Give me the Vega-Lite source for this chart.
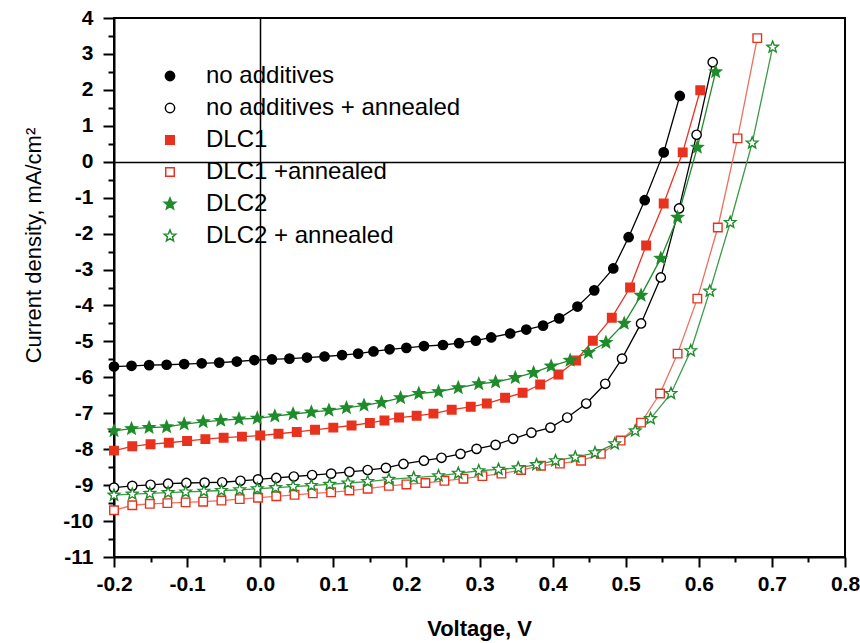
{
  "$schema": "https://vega.github.io/schema/vega-lite/v6.json",
  "width": 731,
  "height": 539,
  "autosize": {"type": "none"},
  "padding": {"left": 114, "top": 18, "right": 15, "bottom": 86},
  "background": "white",
  "config": {"view": {"stroke": "black", "strokeWidth": 2}, "font": "Liberation Sans"},
  "data": {"values": [
    {"s":"no additives","v":-0.2,"j":-5.7},{"s":"no additives","v":-0.176,"j":-5.68},{"s":"no additives","v":-0.152,"j":-5.66},{"s":"no additives","v":-0.128,"j":-5.65},{"s":"no additives","v":-0.104,"j":-5.63},{"s":"no additives","v":-0.08,"j":-5.61},{"s":"no additives","v":-0.056,"j":-5.59},{"s":"no additives","v":-0.032,"j":-5.56},{"s":"no additives","v":-0.008,"j":-5.52},{"s":"no additives","v":0.016,"j":-5.5},{"s":"no additives","v":0.04,"j":-5.48},{"s":"no additives","v":0.064,"j":-5.45},{"s":"no additives","v":0.088,"j":-5.42},{"s":"no additives","v":0.112,"j":-5.38},{"s":"no additives","v":0.134,"j":-5.34},{"s":"no additives","v":0.155,"j":-5.28},{"s":"no additives","v":0.177,"j":-5.22},{"s":"no additives","v":0.2,"j":-5.18},{"s":"no additives","v":0.224,"j":-5.13},{"s":"no additives","v":0.25,"j":-5.1},{"s":"no additives","v":0.272,"j":-5.05},{"s":"no additives","v":0.295,"j":-4.98},{"s":"no additives","v":0.316,"j":-4.89},{"s":"no additives","v":0.342,"j":-4.78},{"s":"no additives","v":0.364,"j":-4.67},{"s":"no additives","v":0.387,"j":-4.56},{"s":"no additives","v":0.409,"j":-4.36},{"s":"no additives","v":0.434,"j":-4.03},{"s":"no additives","v":0.457,"j":-3.58},{"s":"no additives","v":0.483,"j":-2.97},{"s":"no additives","v":0.504,"j":-2.1},{"s":"no additives","v":0.526,"j":-1.07},{"s":"no additives","v":0.552,"j":0.26},{"s":"no additives","v":0.574,"j":1.83},
    {"s":"no additives + annealed","v":-0.2,"j":-9.07},{"s":"no additives + annealed","v":-0.175,"j":-9.02},{"s":"no additives + annealed","v":-0.15,"j":-8.99},{"s":"no additives + annealed","v":-0.126,"j":-8.96},{"s":"no additives + annealed","v":-0.101,"j":-8.94},{"s":"no additives + annealed","v":-0.076,"j":-8.93},{"s":"no additives + annealed","v":-0.052,"j":-8.92},{"s":"no additives + annealed","v":-0.027,"j":-8.88},{"s":"no additives + annealed","v":-0.003,"j":-8.84},{"s":"no additives + annealed","v":0.022,"j":-8.8},{"s":"no additives + annealed","v":0.046,"j":-8.76},{"s":"no additives + annealed","v":0.071,"j":-8.72},{"s":"no additives + annealed","v":0.097,"j":-8.68},{"s":"no additives + annealed","v":0.122,"j":-8.63},{"s":"no additives + annealed","v":0.147,"j":-8.58},{"s":"no additives + annealed","v":0.172,"j":-8.52},{"s":"no additives + annealed","v":0.196,"j":-8.41},{"s":"no additives + annealed","v":0.224,"j":-8.32},{"s":"no additives + annealed","v":0.248,"j":-8.24},{"s":"no additives + annealed","v":0.274,"j":-8.13},{"s":"no additives + annealed","v":0.296,"j":-7.99},{"s":"no additives + annealed","v":0.322,"j":-7.88},{"s":"no additives + annealed","v":0.346,"j":-7.71},{"s":"no additives + annealed","v":0.371,"j":-7.54},{"s":"no additives + annealed","v":0.397,"j":-7.4},{"s":"no additives + annealed","v":0.42,"j":-7.12},{"s":"no additives + annealed","v":0.446,"j":-6.73},{"s":"no additives + annealed","v":0.472,"j":-6.18},{"s":"no additives + annealed","v":0.495,"j":-5.48},{"s":"no additives + annealed","v":0.521,"j":-4.5},{"s":"no additives + annealed","v":0.548,"j":-3.22},{"s":"no additives + annealed","v":0.573,"j":-1.3},{"s":"no additives + annealed","v":0.597,"j":0.75},{"s":"no additives + annealed","v":0.619,"j":2.77},
    {"s":"DLC1","v":-0.2,"j":-8.04},{"s":"DLC1","v":-0.175,"j":-7.92},{"s":"DLC1","v":-0.15,"j":-7.86},{"s":"DLC1","v":-0.125,"j":-7.82},{"s":"DLC1","v":-0.1,"j":-7.77},{"s":"DLC1","v":-0.075,"j":-7.72},{"s":"DLC1","v":-0.05,"j":-7.68},{"s":"DLC1","v":-0.025,"j":-7.65},{"s":"DLC1","v":0.0,"j":-7.62},{"s":"DLC1","v":0.025,"j":-7.57},{"s":"DLC1","v":0.05,"j":-7.52},{"s":"DLC1","v":0.075,"j":-7.46},{"s":"DLC1","v":0.1,"j":-7.4},{"s":"DLC1","v":0.125,"j":-7.34},{"s":"DLC1","v":0.15,"j":-7.27},{"s":"DLC1","v":0.17,"j":-7.2},{"s":"DLC1","v":0.19,"j":-7.12},{"s":"DLC1","v":0.214,"j":-7.07},{"s":"DLC1","v":0.237,"j":-7.01},{"s":"DLC1","v":0.262,"j":-6.9},{"s":"DLC1","v":0.288,"j":-6.82},{"s":"DLC1","v":0.31,"j":-6.73},{"s":"DLC1","v":0.335,"j":-6.57},{"s":"DLC1","v":0.359,"j":-6.43},{"s":"DLC1","v":0.383,"j":-6.2},{"s":"DLC1","v":0.408,"j":-5.92},{"s":"DLC1","v":0.432,"j":-5.53},{"s":"DLC1","v":0.455,"j":-4.98},{"s":"DLC1","v":0.481,"j":-4.34},{"s":"DLC1","v":0.506,"j":-3.5},{"s":"DLC1","v":0.528,"j":-2.33},{"s":"DLC1","v":0.552,"j":-1.16},{"s":"DLC1","v":0.578,"j":0.26},{"s":"DLC1","v":0.602,"j":1.99},
    {"s":"DLC1 +annealed","v":-0.2,"j":-9.7},{"s":"DLC1 +annealed","v":-0.175,"j":-9.56},{"s":"DLC1 +annealed","v":-0.151,"j":-9.52},{"s":"DLC1 +annealed","v":-0.127,"j":-9.5},{"s":"DLC1 +annealed","v":-0.102,"j":-9.48},{"s":"DLC1 +annealed","v":-0.078,"j":-9.46},{"s":"DLC1 +annealed","v":-0.053,"j":-9.43},{"s":"DLC1 +annealed","v":-0.028,"j":-9.39},{"s":"DLC1 +annealed","v":-0.003,"j":-9.35},{"s":"DLC1 +annealed","v":0.022,"j":-9.31},{"s":"DLC1 +annealed","v":0.047,"j":-9.27},{"s":"DLC1 +annealed","v":0.072,"j":-9.23},{"s":"DLC1 +annealed","v":0.097,"j":-9.2},{"s":"DLC1 +annealed","v":0.122,"j":-9.15},{"s":"DLC1 +annealed","v":0.147,"j":-9.1},{"s":"DLC1 +annealed","v":0.176,"j":-9.02},{"s":"DLC1 +annealed","v":0.2,"j":-8.98},{"s":"DLC1 +annealed","v":0.226,"j":-8.94},{"s":"DLC1 +annealed","v":0.252,"j":-8.88},{"s":"DLC1 +annealed","v":0.278,"j":-8.82},{"s":"DLC1 +annealed","v":0.304,"j":-8.75},{"s":"DLC1 +annealed","v":0.33,"j":-8.68},{"s":"DLC1 +annealed","v":0.357,"j":-8.58},{"s":"DLC1 +annealed","v":0.384,"j":-8.46},{"s":"DLC1 +annealed","v":0.41,"j":-8.4},{"s":"DLC1 +annealed","v":0.439,"j":-8.32},{"s":"DLC1 +annealed","v":0.466,"j":-8.13},{"s":"DLC1 +annealed","v":0.493,"j":-7.76},{"s":"DLC1 +annealed","v":0.521,"j":-7.26},{"s":"DLC1 +annealed","v":0.547,"j":-6.45},{"s":"DLC1 +annealed","v":0.571,"j":-5.34},{"s":"DLC1 +annealed","v":0.598,"j":-3.81},{"s":"DLC1 +annealed","v":0.626,"j":-1.83},{"s":"DLC1 +annealed","v":0.653,"j":0.65},{"s":"DLC1 +annealed","v":0.68,"j":3.44},
    {"s":"DLC2","v":-0.2,"j":-7.49},{"s":"DLC2","v":-0.176,"j":-7.43},{"s":"DLC2","v":-0.152,"j":-7.4},{"s":"DLC2","v":-0.128,"j":-7.38},{"s":"DLC2","v":-0.104,"j":-7.3},{"s":"DLC2","v":-0.078,"j":-7.24},{"s":"DLC2","v":-0.054,"j":-7.2},{"s":"DLC2","v":-0.029,"j":-7.16},{"s":"DLC2","v":-0.004,"j":-7.14},{"s":"DLC2","v":0.02,"j":-7.08},{"s":"DLC2","v":0.045,"j":-7.02},{"s":"DLC2","v":0.07,"j":-6.97},{"s":"DLC2","v":0.094,"j":-6.92},{"s":"DLC2","v":0.118,"j":-6.85},{"s":"DLC2","v":0.142,"j":-6.78},{"s":"DLC2","v":0.166,"j":-6.7},{"s":"DLC2","v":0.192,"j":-6.57},{"s":"DLC2","v":0.217,"j":-6.45},{"s":"DLC2","v":0.244,"j":-6.4},{"s":"DLC2","v":0.271,"j":-6.29},{"s":"DLC2","v":0.299,"j":-6.18},{"s":"DLC2","v":0.322,"j":-6.13},{"s":"DLC2","v":0.349,"j":-6.01},{"s":"DLC2","v":0.374,"j":-5.87},{"s":"DLC2","v":0.398,"j":-5.69},{"s":"DLC2","v":0.424,"j":-5.53},{"s":"DLC2","v":0.449,"j":-5.31},{"s":"DLC2","v":0.473,"j":-5.03},{"s":"DLC2","v":0.498,"j":-4.5},{"s":"DLC2","v":0.521,"j":-3.72},{"s":"DLC2","v":0.548,"j":-2.69},{"s":"DLC2","v":0.571,"j":-1.55},{"s":"DLC2","v":0.598,"j":0.4},{"s":"DLC2","v":0.623,"j":2.5},
    {"s":"DLC2 + annealed","v":-0.2,"j":-9.28},{"s":"DLC2 + annealed","v":-0.175,"j":-9.25},{"s":"DLC2 + annealed","v":-0.151,"j":-9.23},{"s":"DLC2 + annealed","v":-0.126,"j":-9.21},{"s":"DLC2 + annealed","v":-0.102,"j":-9.19},{"s":"DLC2 + annealed","v":-0.077,"j":-9.17},{"s":"DLC2 + annealed","v":-0.053,"j":-9.15},{"s":"DLC2 + annealed","v":-0.028,"j":-9.13},{"s":"DLC2 + annealed","v":-0.004,"j":-9.1},{"s":"DLC2 + annealed","v":0.021,"j":-9.07},{"s":"DLC2 + annealed","v":0.045,"j":-9.04},{"s":"DLC2 + annealed","v":0.07,"j":-9.01},{"s":"DLC2 + annealed","v":0.095,"j":-8.98},{"s":"DLC2 + annealed","v":0.12,"j":-8.94},{"s":"DLC2 + annealed","v":0.147,"j":-8.9},{"s":"DLC2 + annealed","v":0.176,"j":-8.84},{"s":"DLC2 + annealed","v":0.21,"j":-8.79},{"s":"DLC2 + annealed","v":0.244,"j":-8.74},{"s":"DLC2 + annealed","v":0.271,"j":-8.67},{"s":"DLC2 + annealed","v":0.299,"j":-8.6},{"s":"DLC2 + annealed","v":0.326,"j":-8.56},{"s":"DLC2 + annealed","v":0.353,"j":-8.52},{"s":"DLC2 + annealed","v":0.378,"j":-8.43},{"s":"DLC2 + annealed","v":0.404,"j":-8.32},{"s":"DLC2 + annealed","v":0.431,"j":-8.22},{"s":"DLC2 + annealed","v":0.458,"j":-8.1},{"s":"DLC2 + annealed","v":0.485,"j":-7.85},{"s":"DLC2 + annealed","v":0.513,"j":-7.49},{"s":"DLC2 + annealed","v":0.534,"j":-7.15},{"s":"DLC2 + annealed","v":0.562,"j":-6.45},{"s":"DLC2 + annealed","v":0.589,"j":-5.26},{"s":"DLC2 + annealed","v":0.615,"j":-3.6},{"s":"DLC2 + annealed","v":0.643,"j":-1.69},{"s":"DLC2 + annealed","v":0.673,"j":0.52},{"s":"DLC2 + annealed","v":0.701,"j":3.19}
  ]},
  "encoding": {
    "x": {
      "field": "v", "type": "quantitative",
      "scale": {"domain": [-0.2, 0.8], "nice": false, "zero": false},
      "axis": {
        "values": [-0.2,-0.15,-0.1,-0.05,0,0.05,0.1,0.15,0.2,0.25,0.3,0.35,0.4,0.45,0.5,0.55,0.6,0.65,0.7,0.75,0.8],
        "title": "Voltage, V",
        "titleFont": "Liberation Sans", "titleFontSize": 22, "titleFontWeight": "bold", "titleColor": "black",
        "titleX": 365, "titleY": 78, "titleAlign": "center", "titleBaseline": "alphabetic",
        "labelExpr": "abs(datum.value*10-round(datum.value*10))<0.001 ? (datum.value<-0.001?'-':'')+format(abs(datum.value),'.1f') : ''",
        "labelFont": "Liberation Sans", "labelFontSize": 21, "labelFontWeight": "bold", "labelColor": "black",
        "labelPadding": 6, "labelFlush": false, "labelOverlap": false,
        "tickColor": "black", "tickWidth": 2,
        "tickSize": {"condition": {"test": "abs(datum.value*10-round(datum.value*10))<0.001", "value": 10}, "value": 5},
        "domainColor": "black", "domainWidth": 2,
        "grid": true, "gridColor": "black", "gridWidth": 1.5,
        "gridOpacity": {"condition": {"test": "abs(datum.value)<0.0001", "value": 1}, "value": 0}
      }
    },
    "y": {
      "field": "j", "type": "quantitative",
      "scale": {"domain": [-11, 4], "nice": false, "zero": false},
      "axis": {
        "values": [-11,-10.5,-10,-9.5,-9,-8.5,-8,-7.5,-7,-6.5,-6,-5.5,-5,-4.5,-4,-3.5,-3,-2.5,-2,-1.5,-1,-0.5,0,0.5,1,1.5,2,2.5,3,3.5,4],
        "title": "Current density, mA/cm²",
        "titleFont": "Liberation Sans", "titleFontSize": 22, "titleFontWeight": "normal", "titleColor": "black",
        "titleX": -81, "titleY": 227, "titleAngle": -90, "titleAlign": "center", "titleBaseline": "middle",
        "labelExpr": "abs(datum.value-round(datum.value))<0.01 ? (datum.value<0?'-':'')+abs(datum.value) : ''",
        "labelFont": "Liberation Sans", "labelFontSize": 21, "labelFontWeight": "bold", "labelColor": "black",
        "labelPadding": 10, "labelFlush": false, "labelOverlap": false,
        "tickColor": "black", "tickWidth": 2,
        "tickSize": {"condition": {"test": "abs(datum.value-round(datum.value))<0.01", "value": 11}, "value": 6},
        "domainColor": "black", "domainWidth": 2,
        "grid": true, "gridColor": "black", "gridWidth": 1.5,
        "gridOpacity": {"condition": {"test": "abs(datum.value)<0.0001", "value": 1}, "value": 0}
      }
    }
  },
  "layer": [
    {
      "mark": {"type": "line", "strokeWidth": 1.3},
      "encoding": {
        "color": {"field": "s", "type": "nominal",
          "scale": {"domain": ["no additives + annealed","no additives","DLC1 +annealed","DLC1","DLC2 + annealed","DLC2"],
                    "range": ["#000000","#000000","#ec6f5f","#e8321e","#3c9a48","#1f8b2b"]},
          "legend": null}
      }
    },
    {
      "mark": {"type": "point", "opacity": 1, "fillOpacity": 1, "strokeWidth": 1.4, "size": 120},
      "encoding": {
        "stroke": {"field": "s", "type": "nominal",
          "scale": {"domain": ["no additives","no additives + annealed","DLC1","DLC1 +annealed","DLC2","DLC2 + annealed"],
                    "range": ["#000000","#000000","#e8321e","#e8321e","#1f8b2b","#1f8b2b"]}},
        "fill": {"field": "s", "type": "nominal",
          "scale": {"domain": ["no additives","no additives + annealed","DLC1","DLC1 +annealed","DLC2","DLC2 + annealed"],
                    "range": ["#000000","#ffffff","#e8321e","#ffffff","#1f8b2b","#ffffff"]}},
        "shape": {"field": "s", "type": "nominal",
          "scale": {"domain": ["no additives","no additives + annealed","DLC1","DLC1 +annealed","DLC2","DLC2 + annealed"],
                    "range": [
                      "M0.85,0A0.85,0.85,0,1,1,-0.85,0A0.85,0.85,0,1,1,0.85,0Z",
                      "M0.85,0A0.85,0.85,0,1,1,-0.85,0A0.85,0.85,0,1,1,0.85,0Z",
                      "M-0.78,-0.78L0.78,-0.78L0.78,0.78L-0.78,0.78Z",
                      "M-0.78,-0.78L0.78,-0.78L0.78,0.78L-0.78,0.78Z",
                      "M0,-1.1L0.282,-0.388L1.046,-0.34L0.457,0.148L0.647,0.89L0,0.48L-0.647,0.89L-0.457,0.148L-1.046,-0.34L-0.282,-0.388Z",
                      "M0,-1.1L0.282,-0.388L1.046,-0.34L0.457,0.148L0.647,0.89L0,0.48L-0.647,0.89L-0.457,0.148L-1.046,-0.34L-0.282,-0.388Z"
                    ]},
          "legend": {
            "orient": "none", "legendX": 44, "legendY": 46, "title": null,
            "labelFont": "Liberation Sans", "labelFontSize": 24, "labelColor": "black", "labelLimit": 500,
            "symbolSize": 120, "symbolStrokeWidth": 1.5, "symbolOpacity": 1, "labelOffset": 24, "rowPadding": 8
          }}
      }
    }
  ]
}
